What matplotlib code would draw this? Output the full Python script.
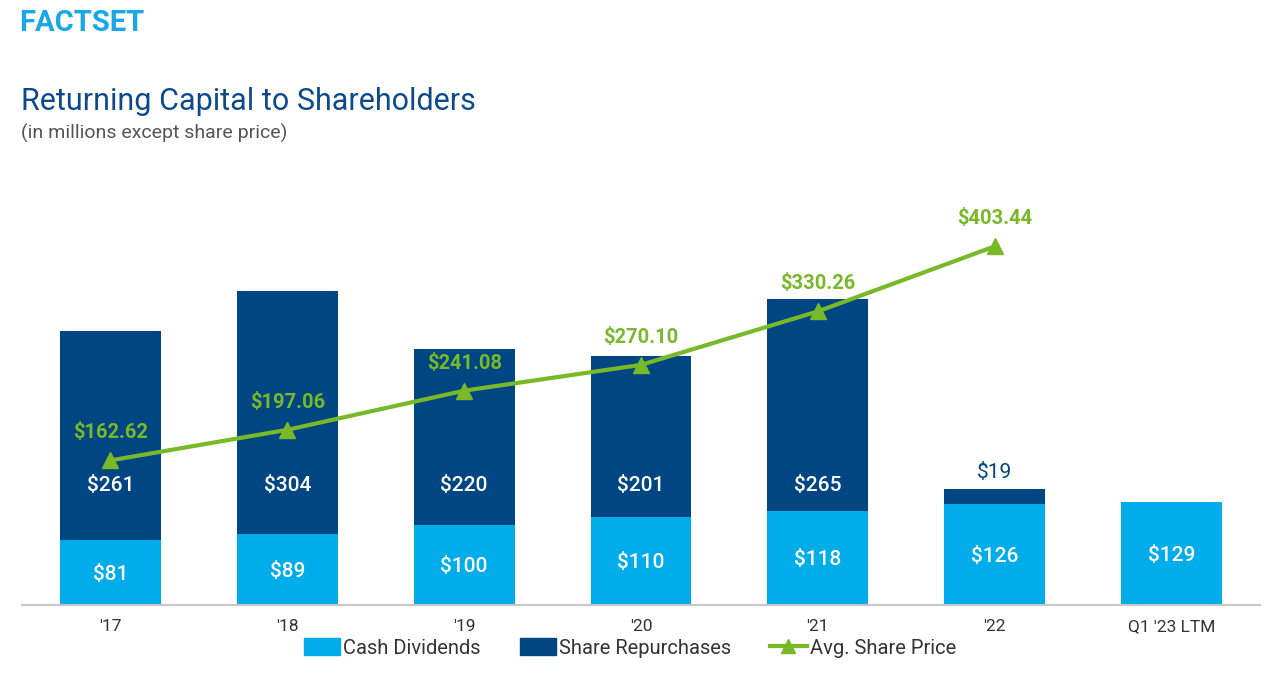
import matplotlib
matplotlib.use("Agg")
import matplotlib.pyplot as plt
from matplotlib.patches import Patch
from matplotlib.lines import Line2D

plt.rcParams['font.family'] = ['Roboto', 'DejaVu Sans']

categories = ["'17", "'18", "'19", "'20", "'21", "'22", "Q1 '23 LTM"]
dividends = [81, 89, 100, 110, 118, 126, 129]
repurchases = [261, 304, 220, 201, 265, 19, 0]
price_cats = ["'17", "'18", "'19", "'20", "'21", "'22"]
avg_price = [162.62, 197.06, 241.08, 270.10, 330.26, 403.44]

LIGHT = '#00ADEA'
NAVY = '#004682'
GREEN = '#78B829'
TITLE = '#0D4A8C'

fig = plt.figure(figsize=(12.8, 6.88), dpi=100)
ax = fig.add_axes([22/1280, 83/688, 1238/1280, 405/688])
ax2 = ax.twinx()

x = list(range(len(categories)))
w = 0.57
ax.bar(x, dividends, width=w, color=LIGHT, zorder=2)
ax.bar(x, repurchases, width=w, bottom=dividends, color=NAVY, zorder=2)

ax.set_xlim(-0.5, len(categories) - 0.5)
ax.set_ylim(0, 405/0.8)
ax2.set_ylim(0, 405/0.889)

for i, (d, r) in enumerate(zip(dividends, repurchases)):
    ax.text(i, d/2, f"${d}", ha='center', va='center_baseline', color='white',
            fontsize=15, fontweight='medium')
    if r > 50:
        ax.text(i, 152, f"${r}", ha='center', va='center_baseline', color='white',
                fontsize=15, fontweight='medium')
    elif r > 0:
        ax.annotate(f"${r}", (i, d + r), xytext=(0, 5), textcoords='offset points',
                    ha='center', va='bottom', color=NAVY, fontsize=15)

px = [categories.index(c) for c in price_cats]
ax2.plot(px, avg_price, color=GREEN, lw=3, marker='^', markersize=11, zorder=5)
for i, p in zip(px, avg_price):
    ax2.annotate(f"${p:.2f}", (i, p), xytext=(0, 13), textcoords='offset points',
                 ha='center', va='bottom', color=GREEN, fontsize=14.5, fontweight='bold')

for a in (ax, ax2):
    for s in ('top', 'right', 'left'):
        a.spines[s].set_visible(False)
    a.set_yticks([])
ax2.spines['bottom'].set_visible(False)
ax.spines['bottom'].set_color('#C8C8C8')
ax.spines['bottom'].set_linewidth(1.5)
ax.set_xticks(x)
ax.set_xticklabels(categories, fontsize=12.5, color='#333333')
ax.tick_params(axis='x', length=0, pad=10)

handles = [Patch(color=LIGHT, label='Cash Dividends'),
           Patch(color=NAVY, label='Share Repurchases'),
           Line2D([0], [0], color=GREEN, lw=3, marker='^', markersize=10, label='Avg. Share Price')]
fig.legend(handles=handles, loc='center', bbox_to_anchor=(0.492, 1 - 648/688), ncol=3,
           frameon=False, fontsize=14.5, handlelength=1.8, handleheight=0.9,
           handletextpad=0.15, columnspacing=1.95, labelcolor='#333333')

fig.text(19/1280, 1 - 23/688, 'FACTSET', fontsize=21, fontweight='bold', color='#1AA7E8',
         va='center', ha='left')
fig.text(21/1280, 1 - 102/688, 'Returning Capital to Shareholders', fontsize=22,
         color=TITLE, va='center', ha='left')
fig.text(21/1280, 1 - 133/688, '(in millions except share price)', fontsize=14,
         color='#555555', va='center', ha='left')

fig.savefig('out.png', dpi=100, facecolor='white')
